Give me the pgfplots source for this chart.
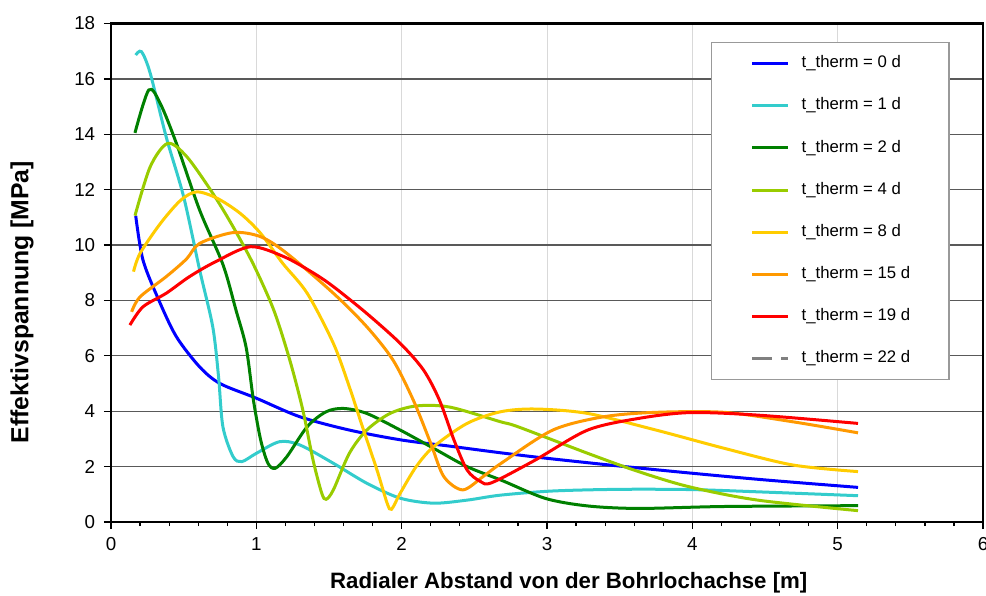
\documentclass[border=0pt]{standalone}
\usepackage{pgfplots}
\pgfplotsset{compat=1.18}
\usepackage{fontspec}
\setmainfont{Liberation Sans}
\definecolor{cblue}{RGB}{0,0,255}
\definecolor{ccyan}{RGB}{51,204,204}
\definecolor{cdgreen}{RGB}{0,128,0}
\definecolor{clgreen}{RGB}{153,204,0}
\definecolor{cyellow}{RGB}{255,204,0}
\definecolor{corange}{RGB}{255,153,0}
\definecolor{cred}{RGB}{255,0,0}
\definecolor{cgray}{RGB}{128,128,128}
\begin{document}
\begin{tikzpicture}
\begin{axis}[
  name=ax,
  scale only axis,
  width=348.8pt, height=199.4pt,
  xmin=0, xmax=6, ymin=0, ymax=18,
  xtick={0,1,...,6}, ytick={0,2,...,18},
  minor x tick num=4,
  tick pos=left, tick align=outside,
  major tick length=2.8pt, minor tick length=1.6pt,
  every tick/.style={black, line width=0.5pt},
  xmajorgrids, ymajorgrids,
  x grid style={gray!30, line width=0.4pt},
  y grid style={black!65, line width=0.5pt},
  axis line style={black, line width=0.9pt},
  /pgf/number format/assume math mode=true,
  tick label style={font=\fontsize{7.5}{9}\selectfont},
  xlabel={Radialer Abstand von der Bohrlochachse [m]},
  ylabel={Effektivspannung [MPa]},
  xlabel style={font=\fontsize{8.9}{10}\selectfont\bfseries, at={(axis description cs:0.525,-0.1223)}, anchor=center},
  ylabel style={font=\fontsize{9.9}{11}\selectfont\bfseries, at={(axis description cs:-0.102,0.441)}, anchor=center},
  legend style={at={(0.688,0.963)}, anchor=north west, draw=gray!80, line width=0.6pt,
    fill=white, font=\fontsize{6.7}{8}\selectfont, inner xsep=15.6pt, inner ysep=5.2pt,
    row sep=10.5pt, column sep=4.8pt, nodes={inner sep=0pt}, cells={anchor=west}},
  legend image code/.code={\draw[#1] (0pt,0pt) -- (14.4pt,0pt);},
  every axis plot/.append style={line width=1.2pt, smooth},
]
\addplot[cblue] coordinates {(0.17,11.06)(0.22,9.46)(0.33,8.0)(0.45,6.69)(0.61,5.6)(0.75,5.0)(1.0,4.47)(1.3,3.8)(1.64,3.32)(2.0,2.96)(2.33,2.74)(2.68,2.5)(3.0,2.3)(3.5,2.02)(4.0,1.76)(4.5,1.52)(5.14,1.25)};
\addlegendentry{t\_therm = 0 d}
\addplot[ccyan] coordinates {(0.17,16.86)(0.21,16.98)(0.27,16.2)(0.38,13.9)(0.5,11.74)(0.61,9.1)(0.70,7.05)(0.74,5.25)(0.77,3.44)(0.84,2.36)(0.90,2.18)(1.0,2.48)(1.16,2.9)(1.30,2.78)(1.53,2.12)(1.76,1.40)(1.99,0.86)(2.22,0.68)(2.45,0.79)(2.68,0.97)(3.04,1.12)(3.5,1.18)(4.0,1.17)(4.5,1.08)(5.14,0.95)};
\addlegendentry{t\_therm = 1 d}
\addplot[cdgreen] coordinates {(0.165,14.05)(0.26,15.6)(0.34,15.1)(0.45,13.67)(0.61,11.26)(0.77,9.3)(0.86,7.65)(0.93,6.3)(0.98,4.4)(1.03,2.96)(1.08,2.12)(1.13,1.94)(1.21,2.36)(1.35,3.44)(1.48,3.98)(1.60,4.1)(1.76,3.92)(1.99,3.32)(2.22,2.66)(2.45,2.0)(2.69,1.5)(2.99,0.85)(3.28,0.58)(3.63,0.49)(4.22,0.56)(5.14,0.59)};
\addlegendentry{t\_therm = 2 d}
\addplot[clgreen] coordinates {(0.165,11.06)(0.27,12.83)(0.39,13.67)(0.52,13.2)(0.70,11.87)(0.84,10.66)(0.98,9.3)(1.12,7.65)(1.23,5.85)(1.32,4.04)(1.39,2.24)(1.45,1.04)(1.48,0.82)(1.53,1.16)(1.64,2.48)(1.76,3.32)(1.92,3.92)(2.10,4.19)(2.33,4.15)(2.68,3.62)(2.80,3.44)(3.28,2.48)(3.63,1.82)(3.98,1.27)(4.45,0.79)(5.14,0.41)};
\addlegendentry{t\_therm = 4 d}
\addplot[cyellow] coordinates {(0.155,9.04)(0.20,9.7)(0.34,10.78)(0.48,11.62)(0.59,11.92)(0.73,11.69)(0.89,11.14)(1.03,10.42)(1.18,9.35)(1.35,8.26)(1.53,6.45)(1.64,4.88)(1.73,3.44)(1.83,1.88)(1.90,0.68)(1.93,0.46)(1.99,1.04)(2.10,2.0)(2.22,2.72)(2.45,3.56)(2.68,3.98)(2.92,4.08)(3.28,3.92)(3.75,3.32)(4.22,2.66)(4.69,2.06)(5.14,1.82)};
\addlegendentry{t\_therm = 8 d}
\addplot[corange] coordinates {(0.142,7.59)(0.20,8.13)(0.38,8.86)(0.52,9.5)(0.61,10.06)(0.84,10.45)(1.03,10.3)(1.21,9.7)(1.53,8.26)(1.76,7.05)(1.94,5.85)(2.08,4.4)(2.20,2.84)(2.29,1.64)(2.42,1.16)(2.56,1.64)(2.69,2.14)(3.04,3.32)(3.39,3.80)(3.75,3.96)(4.22,3.96)(4.69,3.62)(5.14,3.22)};
\addlegendentry{t\_therm = 15 d}
\addplot[cred] coordinates {(0.13,7.11)(0.22,7.77)(0.38,8.26)(0.54,8.86)(0.72,9.4)(0.96,9.94)(1.19,9.58)(1.39,9.0)(1.53,8.5)(1.76,7.53)(1.99,6.45)(2.15,5.49)(2.26,4.4)(2.36,2.96)(2.45,1.88)(2.54,1.47)(2.62,1.42)(2.92,2.24)(3.28,3.32)(3.63,3.74)(3.98,3.95)(4.45,3.86)(5.14,3.56)};
\addlegendentry{t\_therm = 19 d}
\addlegendimage{cgray, line width=1.2pt, dash pattern=on 8pt off 3.6pt on 2.8pt off 3pt}
\addlegendentry{t\_therm = 22 d}
\end{axis}
\pgfresetboundingbox
\path ([xshift=-44.4pt, yshift=-29.2pt]ax.south west) rectangle ([xshift=1.2pt, yshift=9.4pt]ax.north east);
\end{tikzpicture}
\end{document}
